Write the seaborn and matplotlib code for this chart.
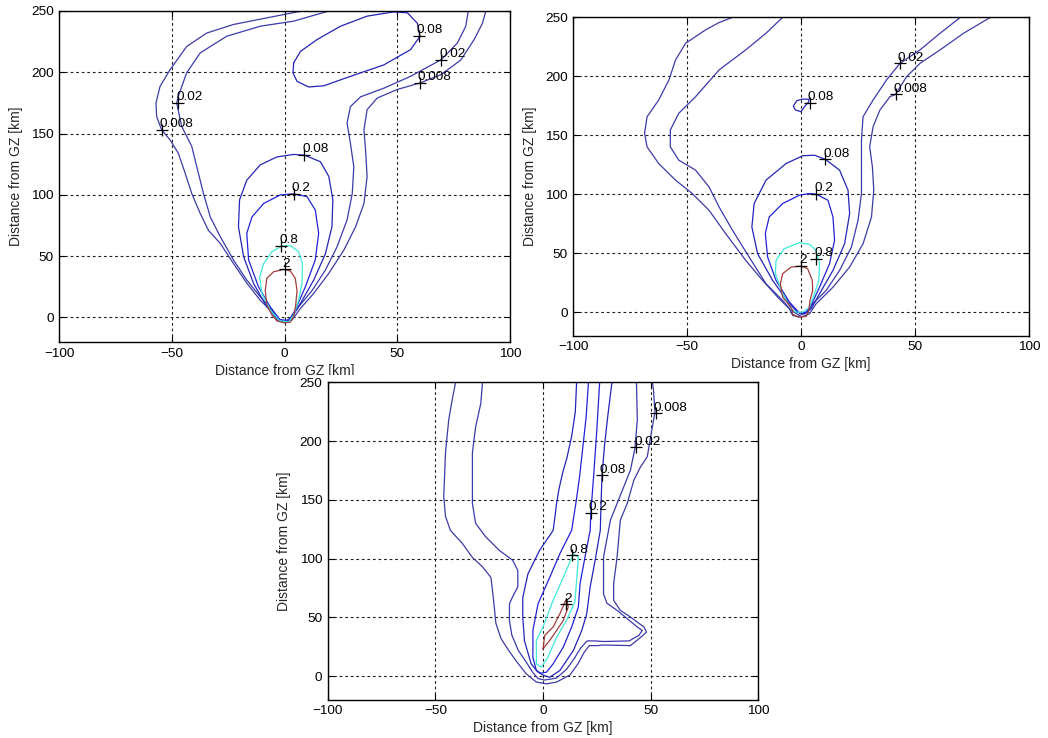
import matplotlib
matplotlib.use("Agg")
import matplotlib.pyplot as plt
from matplotlib.patches import Rectangle
import seaborn as sns

sns.set_style("ticks")
plt.rcParams["font.family"] = ["Liberation Sans", "DejaVu Sans"]

# contour levels and colours (jet-like, as in the source)
levels = ["0.008", "0.02", "0.08", "0.2", "0.8", "2"]
level_colors = {
    "0.008": "#3c3ca6",
    "0.02": "#3a3aac",
    "0.08": "#2424b8",
    "0.2": "#2222d8",
    "0.8": "#3eeada",
    "2": "#a23c3c",
}

x_ticks = [-100, -50, 0, 50, 100]
y_ticks = [0, 50, 100, 150, 200, 250]
axis_label = "Distance from GZ [km]"

# ---- panel 1 (top left) contour paths, km ----
p1_008 = [(7.7, 250), (-7.9, 244.4), (-22.7, 239), (-34.6, 232), (-43.5, 221), (-50.9, 202),
          (-55.3, 188.5), (-57.1, 175), (-56.8, 164), (-54.6, 153), (-50.9, 145), (-47.2, 134),
          (-44.2, 118), (-41.2, 101), (-37.5, 85), (-33.8, 71), (-28.6, 60.5), (-22.7, 44),
          (-16.8, 28), (-10.8, 14), (-6.4, 6), (-3.4, -2), (-0.4, -3.5), (3.3, -2), (7, 7.4),
          (12.9, 19.6), (19.6, 36), (26.3, 55), (31.5, 74), (35.2, 93), (36.6, 115), (35.9, 137),
          (35.2, 153), (36.6, 169.5), (41.1, 179), (50, 186), (60.1, 191.3), (69.3, 198),
          (78.2, 210), (84.1, 226.7), (87.8, 240), (89.3, 250)]
p1_02 = [(19.6, 250), (4, 241.7), (-10.8, 237.6), (-25.7, 229.4), (-37.5, 215.8), (-43.5, 199.5),
         (-47.2, 180.4), (-47.9, 175), (-45.7, 155.9), (-41.2, 139.5), (-39, 123), (-36, 101),
         (-33, 82), (-28.6, 66), (-22.7, 46.9), (-16.8, 30.5), (-10.8, 16.9), (-5.6, 6),
         (-2.7, -1.6), (-0.4, -3.5), (2.5, -1), (6.2, 8.7), (12.2, 22), (18.1, 38.7), (23.3, 57.8),
         (27.7, 79.6), (30, 101), (30.7, 123), (29.2, 142), (27.7, 158.6), (29.2, 172), (33.7, 180),
         (44, 187), (55.9, 196.7), (69.6, 210.4), (76.7, 224), (80.4, 237.6), (81.5, 250)]
p1_08_low = [(-2.7, -1.6), (-7.9, 8.7), (-13.8, 27.8), (-18.2, 49.6), (-20.5, 74), (-20, 96),
             (-16.8, 112), (-10.8, 124.5), (-3.4, 131), (4, 133), (8.8, 132.4), (15.9, 127),
             (19.6, 115), (21.4, 96), (21, 74), (18.1, 52), (12.9, 30.5), (7, 11.4), (3.3, 0.5),
             (0.3, -3.5), (-2.7, -1.6)]
p1_08_top = [(4, 207.6), (3.7, 199.5), (5.5, 192.6), (10.7, 188), (17.4, 189), (29.2, 196.7),
             (44, 206), (55.9, 218.5), (60.1, 229.4), (58.9, 240), (54.5, 248.5), (48.5, 249.3),
             (36.6, 245.8), (24.8, 237.6), (14.4, 226.7), (7, 217), (4, 207.6)]
p1_2e1 = [(-2.2, -1.6), (-6.4, 8.7), (-11.6, 25), (-16, 47), (-16.8, 68.7), (-14.5, 82), (-9.3, 93),
          (-1.9, 100), (4, 100.8), (9.9, 98.6), (13.6, 87.7), (15.1, 68.7), (13.6, 47), (9.2, 25),
          (4.7, 6), (1.8, -2.7), (-2.2, -1.6)]
p1_8e1 = [(-2.2, -2.7), (-6.4, 6), (-10.1, 19.6), (-11.1, 33), (-9.3, 44), (-5.6, 53.7), (-1.2, 58.3),
          (2.5, 58.6), (6.2, 53.7), (7.9, 44), (7.7, 27.8), (6.2, 14.2), (4, 1.9), (1.8, -3.5),
          (-2.2, -2.7)]
p1_2 = [(-3.4, -2.7), (-5.6, 1.9), (-7.9, 10), (-8.6, 22), (-7.9, 32), (-4.9, 37.3), (-0.4, 39.2),
        (2.5, 38), (4.7, 32), (5.5, 22), (4.9, 10), (4, 0.5), (2.5, -3.8), (-0.4, -4.4), (-3.4, -2.7)]
p1_labels = [("0.08", 59.6, 229.4), ("0.02", 69.6, 210.4), ("0.008", 60.1, 191.3),
             ("0.02", -47.2, 175), ("0.008", -54.6, 153), ("0.08", 8.8, 132.4),
             ("0.2", 4, 100.8), ("0.8", -1.5, 58.3), ("2", 0, 39.2)]

# ---- panel 2 (top right) ----
p2_008 = [(-30.1, 250), (-36, 245.6), (-41.9, 239.4), (-50.7, 228), (-55.1, 213.9), (-58, 196.9),
          (-62.5, 179.9), (-67.6, 165.7), (-68.7, 151.6), (-67.6, 140.2), (-62.5, 126), (-55.1, 111.9),
          (-47.8, 100.6), (-40.4, 86.4), (-33.1, 66.6), (-24.3, 43.9), (-16.9, 26.9), (-9.6, 11.3),
          (-5.1, 2.8), (-3.7, -2.8), (0, -4.2), (3.7, -1.4), (6.6, 7.1), (14, 21.2), (21.3, 38.2),
          (27.2, 58), (30.9, 80.7), (31.9, 103.4), (31.3, 123.2), (30.1, 140.2), (31.6, 157.2),
          (34.6, 171.4), (39, 182.7), (41.5, 184.7), (46.3, 199.7), (52.2, 211), (61, 222.4),
          (71.3, 236.5), (83.1, 250)]
p2_02 = [(-8.1, 250), (-15.4, 236.5), (-24.3, 222.4), (-36, 205.4), (-46.3, 182.7), (-53.7, 168.6),
         (-57.4, 154.4), (-57.4, 140.2), (-53.7, 128.9), (-46.3, 120.4), (-40.4, 106.2), (-36, 89.2),
         (-30.1, 69.4), (-22.8, 46.7), (-15.4, 24.1), (-8.1, 9.9), (-4.4, 1.4), (-0.7, -2.8), (2.9, 0),
         (5.1, 7.1), (11, 18.4), (16.9, 35.4), (22.1, 55.2), (25, 77.9), (26.5, 100.6), (26.5, 123.2),
         (26.5, 145.9), (27.2, 165.7), (31.6, 179.9), (37.5, 196.9), (43.4, 211), (52.2, 222.4),
         (61, 236.5), (69.9, 250)]
p2_08_low = [(-1.5, 0), (-5.1, 7.1), (-12.5, 26.9), (-19.1, 49.6), (-21.6, 72.2), (-20.6, 92.1),
             (-15.4, 111.9), (-6.6, 126), (0.7, 132.6), (5.9, 133.1), (10.7, 129.5), (16.9, 120.4),
             (20.6, 103.4), (21.3, 83.6), (19.1, 58), (14, 35.4), (8.1, 15.6), (4.4, 2.8), (1.5, -1.4),
             (-1.5, 0)]
p2_08_isl = [(0, 170), (-2.5, 171.4), (-3.4, 174.8), (-1.9, 179.3), (0.7, 180.7), (3.4, 180.5),
             (3.4, 178.5), (1.5, 174.2), (0, 170)]
p2_2e1 = [(-0.7, -0.8), (-5.1, 8.5), (-11, 26.9), (-14.7, 46.7), (-15.7, 66.6), (-14, 80.7),
          (-8.1, 92.1), (-0.7, 99.2), (3.7, 100.6), (6.6, 100), (11.8, 94.9), (14, 80.7), (14.7, 60.9),
          (12.5, 41.1), (8.1, 21.2), (4.4, 5.7), (2.2, 0), (-0.7, -0.8)]
p2_8e1 = [(-4.4, 2.8), (-8.1, 15.6), (-11.3, 32.6), (-11, 43.9), (-7.4, 53.8), (-0.7, 58.9),
          (3.7, 57.5), (6.6, 52.4), (8.1, 41.1), (7.8, 26.9), (5.9, 15.6), (3.7, 4.2), (0.7, 0),
          (-2.2, 0), (-4.4, 2.8)]
p2_2 = [(-3.7, 1.4), (-5.1, 5.7), (-8.1, 12.7), (-9.1, 24.1), (-8.1, 32.6), (-4.4, 38.2), (0, 39.1),
        (2.9, 36.8), (4.9, 26.9), (5.1, 18.4), (3.9, 9.9), (3.4, 1.4), (2.2, -3.7), (-1.5, -4.2),
        (-3.9, -1.4), (-3.7, 1.4)]
p2_labels = [("0.02", 43.4, 211), ("0.008", 41.5, 184.7), ("0.08", 3.7, 177.6),
             ("0.08", 10.7, 129.5), ("0.2", 6.6, 100), ("0.8", 6.6, 45.3), ("2", 0, 39.1)]

# ---- panel 3 (bottom) ----
p3_008 = [(-40.6, 250), (-42.2, 235), (-43.8, 218), (-45.3, 190), (-46.1, 153), (-45.3, 136),
          (-43, 124), (-37.5, 113), (-32.8, 101), (-28.1, 93), (-24.2, 84), (-23.1, 67), (-21.9, 45),
          (-19.5, 32), (-16, 22), (-12.5, 13), (-7.8, 2), (-3.1, -5), (1.6, -6.5), (6.3, -5),
          (12.5, 1), (16.4, 11), (19, 20), (21.5, 26), (25, 26), (28, 26.5), (40.6, 26), (45.3, 33),
          (48.1, 37.5), (46.9, 41.8), (40.6, 50.3), (35.9, 56), (32.8, 64.5), (32.8, 78.7),
          (34.4, 101.4), (35.9, 132.7), (39.1, 146.9), (42.2, 166.8), (45.3, 178.1), (48.4, 186.6),
          (50, 203.7), (51.6, 220.7), (52, 224), (51.3, 243.5), (50.8, 250)]
p3_02 = [(-28.1, 250), (-28.9, 232), (-31.3, 212), (-32.8, 190), (-32.8, 147), (-31.3, 130),
         (-26.6, 118.5), (-20.3, 107), (-14.1, 98.6), (-11.7, 90), (-11.7, 76), (-14, 68), (-15.6, 61.6),
         (-15.6, 47.4), (-14.5, 35), (-11.5, 22), (-7.8, 12), (-4.7, 3), (-2.3, -2), (0.5, -3.3),
         (3.5, -2.5), (6.3, -1.5), (11, 6), (14.5, 15), (17.5, 24), (20.5, 30), (24, 30), (28.1, 29.5),
         (40, 30), (44.5, 34.7), (46.1, 38.9), (43.8, 41.8), (39.1, 48.9), (34.4, 56), (29.7, 62),
         (28.1, 70), (28.1, 101.4), (31.3, 132.7), (34.4, 146.9), (37.5, 161.1), (40.6, 175.3),
         (42.7, 193.8), (43.8, 217.9), (43.4, 250)]
p3_08 = [(15.6, 250), (15, 225), (13.3, 204), (11, 185), (9.4, 175), (7.5, 160), (6.3, 147),
         (5.5, 135), (4.7, 124), (-1.6, 107), (-7, 87), (-9.4, 67), (-9.4, 50), (-8.6, 30),
         (-5.5, 10.5), (-2.3, 3.4), (0.5, 0.5), (3.1, -0.9), (7.8, 4.8), (14.1, 21.9), (18, 38.9),
         (20.3, 53.1), (21.9, 75.9), (24.2, 98.6), (26.6, 124), (27, 150), (27.4, 170.8),
         (28.5, 195), (30, 220), (32, 250)]
p3_2e1 = [(21.1, 250), (20, 220), (18.5, 195), (17, 170), (15.5, 150), (13.3, 124), (10.5, 114),
          (7.8, 104), (3.1, 84), (-2.3, 61.6), (-4.7, 39), (-4.7, 16), (-3.1, 4.8), (-1, 2.5),
          (1.6, 3.4), (4.7, 10.5), (9.4, 24.7), (13.3, 41.8), (16.4, 58.8), (17.2, 78.7),
          (19.5, 101.4), (21.9, 124), (22.2, 138.7), (23.5, 170), (25, 210), (26.3, 250)]
p3_8e1 = [(14.1, 104), (9.4, 84), (4.7, 64.5), (0, 41.8), (-3.1, 30.4), (-3.1, 10.5), (-0.8, 7.7),
          (2.3, 16.2), (6.3, 33.2), (10.9, 47.4), (14.8, 63), (15.6, 81.5), (16.4, 101.4), (14.1, 104)]
p3_2 = [(0, 23.3), (0.8, 34.7), (4.7, 41.8), (7.8, 53), (10.2, 63), (10.9, 65.9), (11.7, 58.8),
        (9.4, 47.4), (6.3, 38.9), (3.1, 30.4), (0, 23.3)]
p3_labels = [("0.008", 52.3, 223.6), ("0.02", 43.3, 194.6), ("0.08", 27.4, 170.8),
             ("0.2", 22.2, 138.7), ("0.8", 13.3, 102.8), ("2", 10.9, 61)]

panel1 = [(p1_008, "0.008"), (p1_02, "0.02"), (p1_08_low, "0.08"), (p1_08_top, "0.08"),
          (p1_2e1, "0.2"), (p1_8e1, "0.8"), (p1_2, "2")]
panel2 = [(p2_008, "0.008"), (p2_02, "0.02"), (p2_08_low, "0.08"), (p2_08_isl, "0.08"),
          (p2_2e1, "0.2"), (p2_8e1, "0.8"), (p2_2, "2")]
panel3 = [(p3_008, "0.008"), (p3_02, "0.02"), (p3_08, "0.08"), (p3_2e1, "0.2"),
          (p3_8e1, "0.8"), (p3_2, "2")]


def style_axes(ax):
    ax.set_xlim(-100, 100)
    ax.set_ylim(-20, 250)
    ax.set_xticks(x_ticks)
    ax.set_yticks(y_ticks)
    ax.set_axisbelow(True)
    ax.grid(True, color="#202020", linestyle=(0, (2.5, 2.5)), lw=0.8)
    ax.tick_params(direction="in", top=True, right=True, length=4, width=0.8,
                   labelsize=9.7, pad=4, colors="black")
    for sp in ax.spines.values():
        sp.set_color("black")
        sp.set_linewidth(1.0)
        sp.set_visible(True)
    ax.set_xlabel(axis_label, fontsize=10, labelpad=3)
    ax.set_ylabel(axis_label, fontsize=10, labelpad=6)
    ax.set_facecolor("white")


def draw_panel(ax, paths, labels):
    for pts, lev in paths:
        xs = [p[0] for p in pts]
        ys = [p[1] for p in pts]
        sns.lineplot(x=xs, y=ys, sort=False, estimator=None, color=level_colors[lev],
                     lw=0.9, ax=ax, legend=False)
    for txt, lx, ly in labels:
        ax.plot(lx, ly, marker="+", color="black", ms=8, mew=0.9, ls="none")
        ax.annotate(txt, (lx, ly), xytext=(-1.5, 2), textcoords="offset points",
                    ha="left", va="baseline", fontsize=9.7, color="black")
    style_axes(ax)


fig = plt.figure(figsize=(10.48, 7.38), dpi=100)
fig.patch.set_facecolor("white")

ax1 = fig.add_axes([0.0566, 0.5366, 0.430, 0.4485], zorder=0)
ax2 = fig.add_axes([0.547, 0.5451, 0.4348, 0.4314], zorder=0)
ax3 = fig.add_axes([0.3127, 0.0519, 0.4109, 0.4301], zorder=2)

draw_panel(ax1, panel1, p1_labels)
draw_panel(ax2, panel2, p2_labels)
draw_panel(ax3, panel3, p3_labels)

# the bottom panel sits on a white patch that hides part of the top-left label
fig.add_artist(Rectangle((200 / 1048, 0), 580 / 1048, (738 - 375) / 738,
                         transform=fig.transFigure, facecolor="white",
                         edgecolor="none", zorder=1))

fig.savefig("out.png", dpi=100)
